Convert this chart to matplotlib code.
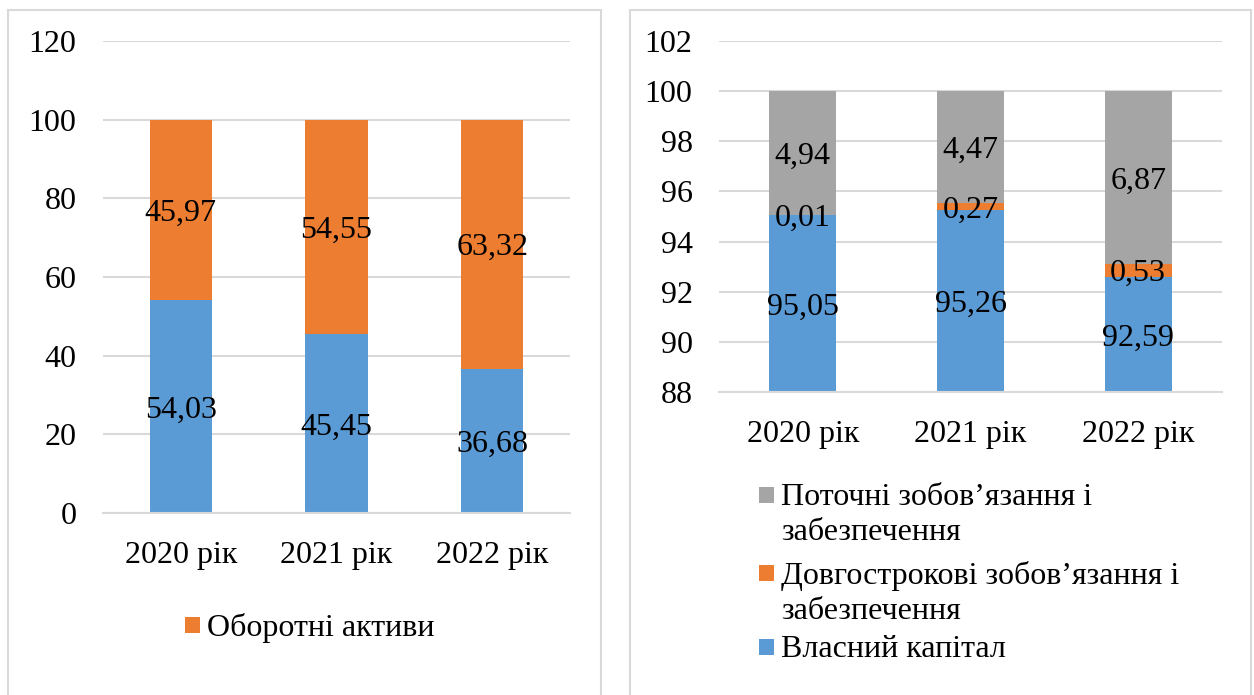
import matplotlib
matplotlib.use("Agg")
import matplotlib.pyplot as plt
from matplotlib.patches import Rectangle

plt.rcParams["font.family"] = ["Liberation Serif", "DejaVu Serif"]

years = ["2020 рік", "2021 рік", "2022 рік"]

# left chart: structure of assets, %
noncurrent = [54.03, 45.45, 36.68]
current = [45.97, 54.55, 63.32]
current_label = "Оборотні активи"

# right chart: structure of liabilities and equity, %
equity = [95.05, 95.26, 92.59]
longterm = [0.01, 0.27, 0.53]
shortterm = [4.94, 4.47, 6.87]
equity_label = "Власний капітал"
longterm_label = "Довгострокові зобов’язання і\nзабезпечення"
shortterm_label = "Поточні зобов’язання і\nзабезпечення"

C_BLUE = "#5B9BD5"
C_ORANGE = "#ED7D31"
C_GRAY = "#A5A5A5"
C_GRID = "#D9D9D9"
FS = 23

W, H = 1254, 695
fig = plt.figure(figsize=(W / 100, H / 100), dpi=100)


def px_rect(x0, y0, x1, y1):
    return [x0 / W, 1 - y1 / H, (x1 - x0) / W, (y1 - y0) / H]


# panel frames
for x0, x1 in [(8, 601), (630, 1251)]:
    fig.patches.append(Rectangle((x0 / W, -0.05), (x1 - x0) / W, 1.05 - 10 / H,
                                 transform=fig.transFigure, facecolor="none",
                                 edgecolor=C_GRID, linewidth=1.5))


def style_axis(ax):
    for s in ["left", "right", "top"]:
        ax.spines[s].set_visible(False)
    ax.spines["bottom"].set_color(C_GRID)
    ax.spines["bottom"].set_linewidth(1.5)
    ax.grid(axis="y", color=C_GRID, linewidth=1.5)
    ax.set_axisbelow(True)
    ax.tick_params(axis="both", length=0, labelsize=FS)
    ax.tick_params(axis="y", pad=19)
    ax.tick_params(axis="x", pad=20)


def stack(ax, series, colors, lo):
    x = range(len(years))
    bottom = [0.0] * len(years)
    for vals, col in zip(series, colors):
        ax.bar(x, vals, bottom=bottom, width=0.4, color=col, zorder=2)
        for i, v in enumerate(vals):
            seg_lo = max(bottom[i], lo)
            seg_hi = bottom[i] + v
            ax.text(i, (seg_lo + seg_hi) / 2, f"{v:.2f}".replace(".", ","),
                    ha="center", va="center_baseline", fontsize=FS, zorder=3)
        bottom = [b + v for b, v in zip(bottom, vals)]
    ax.set_xticks(list(x))
    ax.set_xticklabels(years)
    ax.set_xlim(-0.5, len(years) - 0.5)


# --- left chart ---
axL = fig.add_axes(px_rect(103, 41, 570, 513))
style_axis(axL)
stack(axL, [noncurrent, current], [C_BLUE, C_ORANGE], 0)
axL.set_ylim(0, 120)
axL.set_yticks(range(0, 121, 20))

# --- right chart ---
axR = fig.add_axes(px_rect(719, 41, 1222, 392))
style_axis(axR)
stack(axR, [equity, longterm, shortterm], [C_BLUE, C_ORANGE, C_GRAY], 88)
axR.set_ylim(88, 102)
axR.set_yticks(range(88, 103, 2))


# legends drawn as square swatches + text
def legend_entry(x, y, color, label):
    fig.patches.append(Rectangle((x / W, 1 - (y + 8) / H), 15 / W, 16 / H,
                                 transform=fig.transFigure, facecolor=color,
                                 edgecolor="none"))
    fig.text((x + 22) / W, 1 - (y - 12) / H, label, fontsize=FS, va="top",
             ha="left", linespacing=1.28)


legend_entry(185, 625, C_ORANGE, current_label)
legend_entry(759, 495, C_GRAY, shortterm_label)
legend_entry(759, 573, C_ORANGE, longterm_label)
legend_entry(759, 647, C_BLUE, equity_label)

fig.savefig("out.png", dpi=100)
